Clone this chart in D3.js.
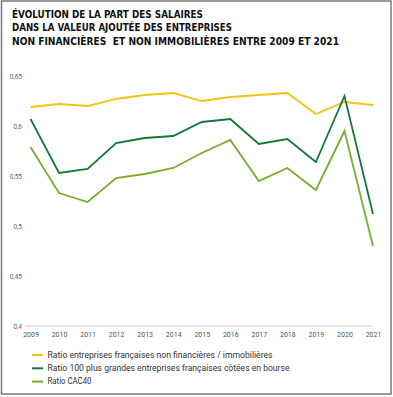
<!DOCTYPE html>
<html lang="fr">
<head>
<meta charset="UTF-8">
<title>Part des salaires</title>
<script src="https://cdn.jsdelivr.net/npm/d3@7"></script>
<style>
  body { margin: 0; background: #fff; }
  svg { display: block; }
</style>
</head>
<body>
<div id="chart"></div>
<script>
var years = [2009, 2010, 2011, 2012, 2013, 2014, 2015, 2016, 2017, 2018, 2019, 2020, 2021];
var ratioEntreprises = [0.619, 0.622, 0.620, 0.627, 0.631, 0.633, 0.625, 0.629, 0.631, 0.633, 0.612, 0.624, 0.621];
var ratio100 = [0.607, 0.553, 0.557, 0.583, 0.588, 0.590, 0.604, 0.607, 0.582, 0.587, 0.564, 0.630, 0.512];
var ratioCAC40 = [0.579, 0.533, 0.524, 0.548, 0.552, 0.558, 0.573, 0.586, 0.545, 0.558, 0.536, 0.595, 0.480];
var yTicks = [0.4, 0.45, 0.5, 0.55, 0.6, 0.65];
var titleLines = [
    "ÉVOLUTION DE LA PART DES SALAIRES",
    "DANS LA VALEUR AJOUTÉE DES ENTREPRISES",
    "NON FINANCIÈRES  ET NON IMMOBILIÈRES ENTRE 2009 ET 2021"
];
var titleWidths = [191, 220, 327];
var seriesNames = [
    "Ratio entreprises françaises non financières / immobilières",
    "Ratio 100 plus grandes entreprises françaises côtées en bourse",
    "Ratio CAC40"
];
var legendWidths = [225, 242, 44];
var colors = ["#f1c40f", "#13793b", "#7cac2e"];
var series = [ratioEntreprises, ratio100, ratioCAC40];

var W = 393, H = 397;
var svg = d3.select('#chart').append('svg')
    .attr('width', W)
    .attr('height', H);

// cadre
svg.append('rect')
    .attr('x', 1.5).attr('y', 1)
    .attr('width', 389.5).attr('height', 393)
    .attr('fill', '#fff')
    .attr('stroke', '#7a7a7a')
    .attr('stroke-width', 1.5);

// titre
svg.append('g').selectAll('text')
    .data(titleLines)
    .enter().append('text')
    .attr('x', 12)
    .attr('y', function(d, i){ return 18 + i * 13.4; })
    .attr('textLength', function(d, i){ return titleWidths[i]; })
    .attr('lengthAdjust', 'spacingAndGlyphs')
    .style('white-space', 'pre')
    .style('font-family', '"DejaVu Sans Condensed", "DejaVu Sans", sans-serif')
    .style('font-weight', 'bold')
    .style('font-size', '10.5px')
    .style('fill', '#111')
    .text(function(d){ return d; });

var x = d3.scalePoint()
    .domain(years)
    .range([30.5, 373]);

var y = d3.scaleLinear()
    .domain([0.4, 0.65])
    .range([326, 76]);

var fmt = function(d){ return d3.format('.2~f')(d).replace('.', ','); };

// axe des ordonnées (labels seulement)
var yAxis = svg.append('g')
    .attr('transform', 'translate(24,0)')
    .call(d3.axisLeft(y).tickValues(yTicks).tickFormat(fmt).tickSize(0).tickPadding(2));
yAxis.select('.domain').remove();
yAxis.selectAll('text')
    .style('font-family', 'Roboto, sans-serif')
    .style('font-size', '6.5px')
    .style('fill', '#666');

// axe des abscisses
var xAxis = svg.append('g')
    .attr('transform', 'translate(0,326)')
    .call(d3.axisBottom(x).tickSize(0).tickPadding(6));
xAxis.select('.domain')
    .attr('d', 'M25,0H373')
    .attr('stroke', '#d0d0d0')
    .attr('stroke-width', 1.2);
xAxis.selectAll('text')
    .style('font-family', 'Roboto, sans-serif')
    .style('font-size', '7px')
    .style('fill', '#555');

// courbes
var line = d3.line()
    .x(function(d, i){ return x(years[i]); })
    .y(function(d){ return y(d); });

svg.append('g').selectAll('path')
    .data(series)
    .enter().append('path')
    .attr('d', line)
    .attr('fill', 'none')
    .attr('stroke', function(d, i){ return colors[i]; })
    .attr('stroke-width', 1.8)
    .attr('stroke-linejoin', 'miter');

// légende
var leg = svg.append('g').selectAll('g')
    .data(seriesNames)
    .enter().append('g')
    .attr('transform', function(d, i){ return 'translate(32,' + (355 + i * 13.3) + ')'; });

leg.append('line')
    .attr('x1', 0).attr('x2', 11)
    .attr('stroke', function(d, i){ return colors[i]; })
    .attr('stroke-width', 2);

leg.append('text')
    .attr('x', 15.5)
    .attr('dy', '0.34em')
    .attr('textLength', function(d, i){ return legendWidths[i]; })
    .attr('lengthAdjust', 'spacingAndGlyphs')
    .style('font-family', 'Roboto, sans-serif')
    .style('font-size', '8.5px')
    .style('fill', '#333')
    .text(function(d){ return d; });
</script>
</body>
</html>
